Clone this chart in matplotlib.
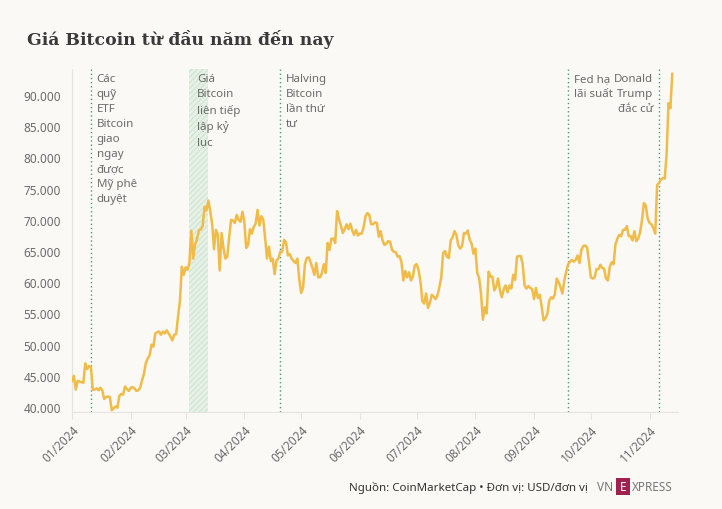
import numpy as np
import pandas as pd
import matplotlib
matplotlib.use("Agg")
import matplotlib.pyplot as plt
import matplotlib.dates as mdates
from matplotlib.ticker import FuncFormatter
from matplotlib.patches import Rectangle

plt.rcParams['font.family'] = ['Noto Sans', 'DejaVu Sans']

# daily closing price (USD), 01/01/2024 - 13/11/2024
jan = [44200, 45000, 42800, 44200, 44100, 44000, 43900, 47000, 46100, 46600, 46300,
       42800, 42800, 43000, 42700, 43100, 42700, 41300, 41600, 41700, 41600, 39500,
       39800, 40100, 39900, 41800, 42100, 42000, 43300, 42900, 42600]
feb = [43100, 43200, 43000, 42600, 42700, 43100, 44300, 45300, 47100, 47800, 48300,
       50000, 49700, 51800, 52000, 52100, 51600, 52100, 51800, 52300, 51800, 51300,
       50700, 51600, 51700, 54500, 57000, 62500, 61200]
mar = [62400, 62000, 63100, 68300, 63800, 66100, 66900, 68300, 68500, 69000, 72100,
       71500, 73100, 71400, 69400, 65300, 68400, 67600, 61900, 67900, 65500, 63800,
       64100, 67200, 70000, 69900, 69500, 70800, 70000, 69700, 71300]
apr = [69700, 65500, 66000, 68500, 67800, 68900, 69400, 71600, 69100, 70600, 70000,
       67100, 63800, 65700, 63400, 63800, 61300, 63500, 63800, 64900, 64900, 66800,
       66400, 64300, 64500, 63800, 63400, 63100, 63800, 60600]
may = [58300, 59100, 62900, 63900, 64000, 63200, 62300, 61200, 63100, 60800, 60800,
       61500, 62900, 61500, 66300, 65200, 67000, 67000, 66300, 71400, 70100, 69100,
       67900, 68500, 69300, 68500, 69400, 68300, 67600, 68400, 67500]
jun = [67800, 67800, 68800, 70600, 71100, 70800, 69300, 69300, 69600, 69500, 67300,
       68200, 66700, 66000, 66200, 66600, 66500, 65200, 64900, 64800, 64100, 64200,
       63200, 60300, 61800, 60800, 61600, 60300, 60900, 62700]
jul = [62900, 62000, 60200, 57000, 56600, 58200, 55900, 56700, 58000, 57700, 57300,
       57900, 59200, 60800, 64700, 65000, 64100, 63900, 66700, 67200, 68200, 67600,
       65900, 65400, 65800, 67900, 67800, 68300, 66800, 66200, 64600]
aug = [65400, 61500, 60700, 58200, 54000, 56000, 55000, 61700, 60900, 60900, 58700,
       59300, 60600, 58700, 57600, 58900, 59500, 58400, 59500, 59000, 61200, 60400,
       64100, 64200, 64200, 62900, 59500, 59000, 59400, 59100, 58900]
sep = [57300, 59100, 57500, 58000, 56200, 53900, 54200, 54900, 57000, 57600, 57400,
       58100, 60600, 60000, 59200, 58200, 60300, 61700, 62900, 63300, 63600, 63300,
       63600, 64300, 63100, 65200, 65800, 65900, 65600, 63300]
oct_ = [60800, 60600, 60800, 62100, 62100, 62800, 62300, 62200, 60600, 60300, 62500,
        63200, 62900, 66100, 67000, 67600, 67400, 68400, 68400, 69000, 67400, 67400,
        66700, 68200, 66600, 67000, 68000, 69900, 72700, 72300, 70200]
nov = [69500, 69300, 68700, 67800, 75600, 75900, 76500, 76700, 76600, 80500, 88700,
       87900, 93400]

prices = jan + feb + mar + apr + may + jun + jul + aug + sep + oct_ + nov
dates = pd.date_range("2024-01-01", periods=len(prices), freq="D")

# events
event_dates = ["2024-01-11", "2024-04-20", "2024-09-19", "2024-11-06"]
record_span = ("2024-03-03", "2024-03-13")
month_ticks = pd.date_range("2024-01-01", "2024-11-01", freq="MS")

bg = "#faf9f6"
line_col = "#f1bb48"
event_col = "#4a9a72"
text_col = "#6b6b6b"

fig = plt.figure(figsize=(7.22, 5.10), dpi=100, facecolor=bg)
ax = fig.add_axes([0.0997, 0.190, 0.8393, 0.673], facecolor=bg)

ax.axvspan(pd.Timestamp(record_span[0]), pd.Timestamp(record_span[1]),
           facecolor="#e7f1e7", edgecolor="#d3e6d3", hatch="//////", lw=0, zorder=1)
for d in event_dates:
    ax.axvline(pd.Timestamp(d), color=event_col, lw=1, ls=(0, (1, 2)), zorder=2)

ax.plot(dates, prices, color=line_col, lw=1.8, solid_joinstyle="round", zorder=3)

ax.set_ylim(39200, 94200)
ax.set_xlim(pd.Timestamp("2024-01-01"), pd.Timestamp("2024-11-16"))
ax.set_yticks(range(40000, 90001, 5000))
ax.yaxis.set_major_formatter(FuncFormatter(lambda v, p: f"{int(v):,}".replace(",", ".")))
ax.set_xticks(month_ticks)
ax.xaxis.set_major_formatter(mdates.DateFormatter("%m/%Y"))
plt.setp(ax.get_xticklabels(), rotation=45, ha="right", rotation_mode="anchor")

for s in ["top", "right"]:
    ax.spines[s].set_visible(False)
for s in ["left", "bottom"]:
    ax.spines[s].set_color("#e6e4df")
    ax.spines[s].set_linewidth(0.8)
ax.tick_params(axis="y", length=0, pad=8, labelsize=8.5, labelcolor=text_col)
ax.tick_params(axis="x", length=5, width=0.8, color="#e6e4df", pad=3,
               labelsize=8.5, labelcolor=text_col)

# annotations
ann_kw = dict(fontsize=8.3, color=text_col, va="top", linespacing=1.5, zorder=4)
ax.text(pd.Timestamp("2024-01-14"), 93500,
        "Các\nquỹ\nETF\nBitcoin\ngiao\nngay\nđược\nMỹ phê\nduyệt", ha="left", **ann_kw)
ax.text(pd.Timestamp("2024-03-07"), 93500,
        "Giá\nBitcoin\nliên tiếp\nlập kỷ\nlục", ha="left", **ann_kw)
ax.text(pd.Timestamp("2024-04-23"), 93500,
        "Halving\nBitcoin\nlần thứ\ntư", ha="left", **ann_kw)
ax.text(pd.Timestamp("2024-09-22"), 93500, "Fed hạ\nlãi suất", ha="left", **ann_kw)
ax.text(pd.Timestamp("2024-11-03"), 93500, "Donald\nTrump\nđắc cử", ha="right", **ann_kw)

fig.text(27 / 722, 1 - 40 / 510, "Giá Bitcoin từ đầu năm đến nay", family="DejaVu Serif",
         fontweight="bold", fontsize=12.4, color="#3a3a3a", va="center", ha="left")

fig.text(588 / 722, 1 - 488 / 510, "Nguồn: CoinMarketCap • Đơn vị: USD/đơn vị",
         fontsize=8.3, color="#333333", ha="right", va="center")
# VnExpress logo
fig.text(597 / 722, 1 - 488 / 510, "VN", fontsize=8.5, color="#777777", ha="left", va="center")
fig.patches.append(Rectangle((616 / 722, 1 - 496 / 510), 14 / 722, 17 / 510,
                             transform=fig.transFigure, facecolor="#9f224e", edgecolor="none"))
fig.text(623 / 722, 1 - 488 / 510, "E", fontsize=8.5, color="white", ha="center", va="center",
         fontweight="bold")
fig.text(632 / 722, 1 - 488 / 510, "XPRESS", fontsize=8.5, color="#777777", ha="left", va="center")

fig.savefig("out.png", dpi=100, facecolor=bg)
